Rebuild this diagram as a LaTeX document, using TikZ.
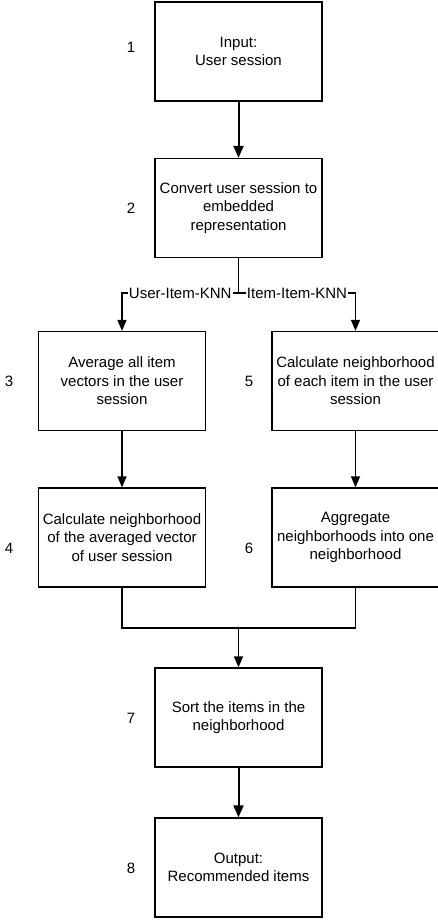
\documentclass[tikz,border=0pt]{standalone}
\usepackage{fontspec}
\setmainfont{Liberation Sans}
\usetikzlibrary{arrows.meta}
\tikzset{
  box/.style={draw,line width=1.3bp,minimum width=167bp,minimum height=99bp,align=center,inner sep=1bp},
  num/.style={inner sep=0pt},
  lbl/.style={fill=white,inner sep=1bp},
  arr/.style={line width=1.3bp,-{Triangle[width=9bp,length=11bp]}},
  thickarr/.style={line width=2bp,-{Triangle[width=10bp,length=12bp]}}
}
\begin{document}
\begin{tikzpicture}[x=1bp,y=-1bp,font=\fontsize{15bp}{18.5bp}\selectfont]
\useasboundingbox (0,0) rectangle (438,920);
% boxes
\node[box](b1) at (238.5,51.5){Input:\\User session};
\node[box](b2) at (238.5,208){Convert user session to\\embedded\\representation};
\node[box](b3) at (122,381){Average all item\\vectors in the user\\session};
\node[box](b5) at (355.5,381){Calculate neighborhood\\of each item in the user\\session};
\node[box](b4) at (122,537.5){Calculate neighborhood\\of the averaged vector\\of user session};
\node[box](b6) at (355.5,537.5){Aggregate\\neighborhoods into one\\neighborhood};
\node[box](b7) at (238.5,717.5){Sort the items in the\\neighborhood};
\node[box](b8) at (238.5,867.5){Output:\\Recommended items};
% step numbers
\node[num](n1) at (131,47){1};
\node[num](n2) at (131,208){2};
\node[num](n3) at (9,381){3};
\node[num](n4) at (9,548){4};
\node[num](n5) at (249,381){5};
\node[num](n6) at (249,548){6};
\node[num](n7) at (131,718){7};
\node[num](n8) at (131,868){8};
% connectors
\coordinate(split) at (238.5,293);
\coordinate(merge) at (238.5,628);
\draw[thickarr](b1)--(b2);
\draw[line width=1.3bp](b2.south)--(split);
\draw[arr](split)-|node[pos=0.25,lbl]{User-Item-KNN}(b3);
\draw[arr](split)-|node[pos=0.25,lbl]{Item-Item-KNN}(b5);
\draw[arr](b3)--(b4);
\draw[arr](b5)--(b6);
\draw[line width=1.3bp](b4.south)|-(merge)-|(b6.south);
\draw[arr](merge)--(b7);
\draw[thickarr](b7)--(b8);
\end{tikzpicture}
\end{document}
